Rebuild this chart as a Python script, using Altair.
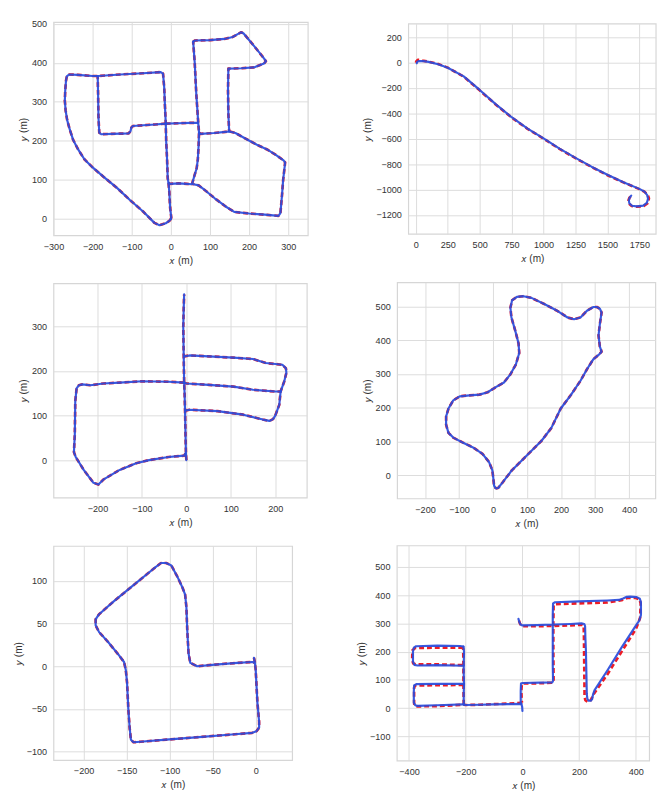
import altair as alt
import pandas as pd

# ---------------- data ----------------
# Panel 1 (ground truth == estimate at this resolution)
P1_STROKES = [
    [[0, 0], [-4, -5], [-13, -11], [-29, -16], [-42, -10], [-71, 19], [-104, 48], [-137, 79],
     [-171, 107], [-200, 132], [-221, 153], [-237, 178], [-250, 203], [-258, 228], [-265, 253],
     [-269, 278], [-271, 303], [-270, 329], [-268, 354], [-266, 365], [-260, 370], [-238, 369],
     [-200, 366], [-186, 366], [-129, 370], [-71, 373], [-26, 376], [-20, 372], [-17, 337],
     [-15, 287], [-13, 244]],
    [[0, 0], [1, 4], [-2, 30], [-4, 70], [-6, 92], [-8, 104], [-10, 160], [-12, 200], [-13, 244]],
    [[-6, 92], [-2, 90], [20, 91], [40, 90], [54, 89], [60, 110], [66, 130], [69, 153], [71, 190],
     [72, 221], [70, 246], [65, 320], [61, 400], [57, 454]],
    [[57, 454], [62, 457], [100, 458], [137, 461], [158, 466], [172, 474], [180, 478], [186, 475],
     [215, 440], [235, 415], [243, 404], [238, 398], [212, 388], [180, 386], [147, 385],
     [146, 330], [147, 270], [149, 224]],
    [[-13, 244], [20, 245], [50, 246], [68, 246]],
    [[72, 221], [76, 218], [110, 220], [140, 223], [150, 224], [165, 220], [196, 203], [220, 190],
     [246, 178], [270, 163], [288, 150], [292, 145], [291, 135], [287, 100], [284, 60], [280, 15],
     [275, 8], [240, 11], [200, 14], [162, 18], [140, 32], [112, 53], [88, 73], [71, 86], [58, 89]],
    [[-13, 244], [-40, 242], [-70, 240], [-97, 238], [-101, 234], [-103, 225], [-108, 219],
     [-150, 218], [-178, 217], [-183, 221], [-185, 260], [-186, 320], [-187, 366]],
]

# Panel 2
P2_GT = [
    [[0, 0], [5, 12], [15, 22], [30, 22], [50, 16], [100, 8], [175, -10], [250, -39], [375, -110],
     [500, -218], [625, -330], [750, -432], [875, -522], [1000, -599], [1125, -680], [1250, -753],
     [1375, -822], [1500, -887], [1625, -944], [1750, -997], [1790, -1018], [1815, -1040],
     [1825, -1070], [1815, -1108], [1785, -1130], [1730, -1136], [1690, -1130], [1668, -1110],
     [1665, -1085], [1672, -1065], [1685, -1052]],
]
P2_EST = [
    [[8, -5], [12, 8], [26, 13], [60, 12], [100, 6], [175, -12], [250, -40], [375, -108],
     [500, -215], [625, -327], [750, -430], [875, -520], [1000, -597], [1125, -678], [1250, -751],
     [1375, -820], [1500, -884], [1625, -942], [1750, -995], [1790, -1017], [1810, -1042],
     [1818, -1072], [1808, -1106], [1780, -1127], [1730, -1133], [1692, -1128], [1671, -1108],
     [1668, -1085], [1674, -1064], [1686, -1048]],
]

# Panel 3
P3_STROKES = [
    [[0, 0], [-1, 15], [-2, 60], [-3, 111], [-4, 150], [-5, 174], [-6, 234], [-7, 300], [-6, 340],
     [-5, 372]],
    [[-5, 174], [-40, 176], [-99, 177], [-150, 174], [-187, 172], [-216, 168], [-234, 170],
     [-242, 168], [-247, 161], [-250, 132], [-251, 58], [-253, 18], [-249, 7], [-231, -22],
     [-209, -51], [-198, -55], [-187, -44], [-150, -22], [-113, -7], [-84, 0], [-40, 7], [-18, 9],
     [-5, 10], [-2, 15]],
    [[-3, 111], [7, 113], [70, 110], [128, 102], [172, 91], [187, 88], [195, 92], [200, 100],
     [209, 124], [212, 154], [220, 176], [225, 196], [224, 206], [216, 214], [179, 218],
     [150, 227], [106, 230], [50, 233], [7, 235], [-5, 233]],
    [[-5, 174], [0, 172], [50, 169], [106, 165], [150, 158], [200, 154], [213, 154]],
]

# Panel 4
P4_STROKES = [
    [[8, -38], [15, -37], [27, -22], [55, 15], [94, 54], [142, 102], [171, 140], [199, 198],
     [228, 237], [257, 280], [276, 314], [295, 344], [312, 358], [319, 366], [314, 381],
     [310, 414], [314, 448], [319, 482], [314, 493], [305, 498], [295, 498], [276, 487],
     [257, 467], [238, 462], [219, 467], [190, 486], [152, 506], [113, 525], [89, 530], [70, 528],
     [56, 518], [51, 496], [54, 467], [65, 429], [75, 390], [77, 362], [67, 328], [51, 299],
     [32, 275], [8, 261], [-16, 246], [-40, 239], [-69, 237], [-98, 234], [-117, 222],
     [-131, 198], [-138, 174], [-138, 150], [-131, 126], [-117, 112], [-88, 97], [-59, 83],
     [-31, 64], [-12, 40], [-2, 15], [1, -10], [3, -30], [8, -38]],
]

# Panel 5
P5_STROKES = [
    [[-2, 10], [-1, 5], [0, -4], [2, -42], [4, -65], [4, -72], [1, -76], [-4, -78], [-28, -80],
     [-66, -83], [-104, -86], [-134, -88.5], [-142, -89], [-145, -86], [-146.5, -72], [-148, -50],
     [-149.5, -19], [-151, -4], [-153, 5], [-159, 13], [-172, 29], [-182, 40], [-186, 48],
     [-186, 55], [-182, 61], [-165, 76], [-142, 95], [-119, 114], [-110, 121], [-104, 121],
     [-98, 118], [-91, 105], [-85, 92], [-82, 84], [-80.5, 69], [-79.5, 42], [-78, 15], [-76, 4],
     [-68, 0], [-47, 2], [-21, 4], [-4, 5], [-1, 4]],
]

# Panel 6
P6_GT = [
    [[-12, 310], [-9, 300], [-3, 290], [50, 290], [110, 291], [170, 293], [210, 295], [216, 292],
     [217, 250], [218, 150], [219, 60], [219, 40], [222, 28], [230, 22], [238, 24], [244, 34],
     [250, 48], [300, 120], [350, 200], [400, 280], [408, 300], [415, 320], [417, 370],
     [413, 385], [400, 390], [370, 390], [350, 382], [300, 374], [200, 371], [115, 368],
     [110, 364], [109, 300], [109, 200], [110, 95], [107, 90], [60, 88], [2, 87], [-2, 85],
     [-4, 60], [-2, 22], [-1, 19]],
    [[-1, 19], [-50, 16], [-100, 14], [-150, 12], [-200, 11], [-207, 12]],
    [[-207, 12], [-208, 82], [-208, 152], [-209, 214]],
    [[-209, 214], [-300, 214], [-378, 213], [-388, 205], [-389, 170], [-385, 158], [-375, 155],
     [-300, 155], [-208, 152]],
    [[-208, 82], [-300, 81], [-378, 80], [-382, 72], [-382, 15], [-376, 6], [-300, 7], [-207, 12]],
]
P6_EST = [
    [[-14, 316], [-11, 305], [-6, 295], [0, 293], [50, 294], [110, 296], [170, 298], [208, 300],
     [218, 298], [221, 290], [222, 250], [224, 200], [225, 150], [226, 100], [227, 50], [229, 33],
     [234, 26], [241, 26], [246, 32], [249, 48], [254, 63], [300, 134], [350, 215], [400, 292],
     [412, 310], [418, 330], [418, 375], [414, 387], [403, 393], [380, 395], [368, 394],
     [355, 388], [340, 383], [300, 381], [200, 378], [115, 375], [108, 371], [107, 330],
     [107, 250], [107, 150], [108, 96], [105, 91], [60, 90], [0, 89], [-5, 87], [-6, 60],
     [-6, 20], [-4, 15]],
    [[0, -10], [-1, 5], [-4, 15], [-50, 14], [-100, 13], [-150, 12], [-200, 11], [-207, 13]],
    [[-207, 13], [-207, 50], [-206, 86], [-207, 120], [-207, 150], [-206, 200], [-208, 218]],
    [[-208, 218], [-220, 220], [-300, 221], [-375, 219], [-383, 214], [-386, 200], [-386, 165],
     [-381, 153], [-370, 151], [-300, 152], [-207, 150]],
    [[-206, 86], [-300, 86], [-374, 85], [-382, 80], [-383, 60], [-383, 20], [-378, 10],
     [-370, 8], [-300, 10], [-207, 13]],
]

# axis tick values
P1_XT, P1_YT = [-300, -200, -100, 0, 100, 200, 300], [0, 100, 200, 300, 400, 500]
P2_XT, P2_YT = [0, 250, 500, 750, 1000, 1250, 1500, 1750], [-1200, -1000, -800, -600, -400, -200, 0, 200]
P3_XT, P3_YT = [-200, -100, 0, 100, 200], [0, 100, 200, 300]
P4_XT, P4_YT = [-200, -100, 0, 100, 200, 300, 400], [0, 100, 200, 300, 400, 500]
P5_XT, P5_YT = [-200, -150, -100, -50, 0], [-100, -50, 0, 50, 100]
P6_XT, P6_YT = [-400, -200, 0, 200, 400], [-100, 0, 100, 200, 300, 400, 500]

RED = "#ee1c25"
BLUE = "#2a4cdc"
FONT = "Liberation Sans"


def frame(strokes, tag):
    rows = []
    for si, stroke in enumerate(strokes):
        for i, (x, y) in enumerate(stroke):
            rows.append({"x": x, "y": y, "seg": f"{tag}{si}", "i": i})
    return pd.DataFrame(rows)


def panel(gt, est, xdom, ydom, xt, yt, w, h):
    xenc = alt.X("x:Q", scale=alt.Scale(domain=xdom, nice=False, zero=False),
                 axis=alt.Axis(values=xt, format="d", title="𝑥 (m)"))
    yenc = alt.Y("y:Q", scale=alt.Scale(domain=ydom, nice=False, zero=False),
                 axis=alt.Axis(values=yt, format="d", title="𝑦 (m)"))
    red = alt.Chart(frame(gt, "g")).mark_line(
        color=RED, strokeWidth=2.7, strokeDash=[5, 3], strokeJoin="round"
    ).encode(x=xenc, y=yenc, detail="seg:N", order="i:Q")
    blue = alt.Chart(frame(est, "e")).mark_line(
        color=BLUE, strokeWidth=2.2, strokeJoin="round", strokeCap="round", opacity=0.93
    ).encode(x=xenc, y=yenc, detail="seg:N", order="i:Q")
    return alt.layer(red, blue).properties(width=w, height=h)


p1 = panel(P1_STROKES, P1_STROKES, [-300, 350], [-42, 504], P1_XT, P1_YT, 260, 218)
p2 = panel(P2_GT, P2_EST, [-59, 1878], [-1350, 308], P2_XT, P2_YT, 253, 215)
p3 = panel(P3_STROKES, P3_STROKES, [-299, 271], [-84, 397], P3_XT, P3_YT, 259, 219)
p4 = panel(P4_STROKES, P4_STROKES, [-282, 477], [-68, 571], P4_XT, P4_YT, 264, 221)
p5 = panel(P5_STROKES, P5_STROKES, [-235, 42.4], [-110, 141], P5_XT, P5_YT, 244, 219)
p6 = panel(P6_GT, P6_EST, [-443, 447], [-186, 576], P6_XT, P6_YT, 258, 220)

row1 = alt.hconcat(p1, p2, spacing=102.7, bounds="flush", center=True)
row2 = alt.hconcat(p3, p4, spacing=92.3, bounds="flush", center=True)
row3 = alt.hconcat(p5, p6, spacing=107, bounds="flush", center=True)

chart = (
    alt.vconcat(row1, row2, row3, spacing=15)
    .properties(padding={"left": 4.5, "top": 1.6, "right": 0, "bottom": 0})
    .configure_view(stroke="#d6d6d6", strokeWidth=1.2)
    .configure_axis(
        grid=True, gridColor="#dcdcdc", gridWidth=1, domain=False, ticks=False,
        labelFont=FONT, labelFontSize=9.3, labelColor="#333333", labelPadding=7,
        labelFlush=False, labelOverlap=False,
        titleFont=FONT, titleFontSize=10.3, titleFontWeight="normal", titleColor="#333333",
        titlePadding=3,
    )
    .configure_axisX(titlePadding=4)
)

chart.save("out.html", embed_options={"renderer": "svg", "actions": False})
